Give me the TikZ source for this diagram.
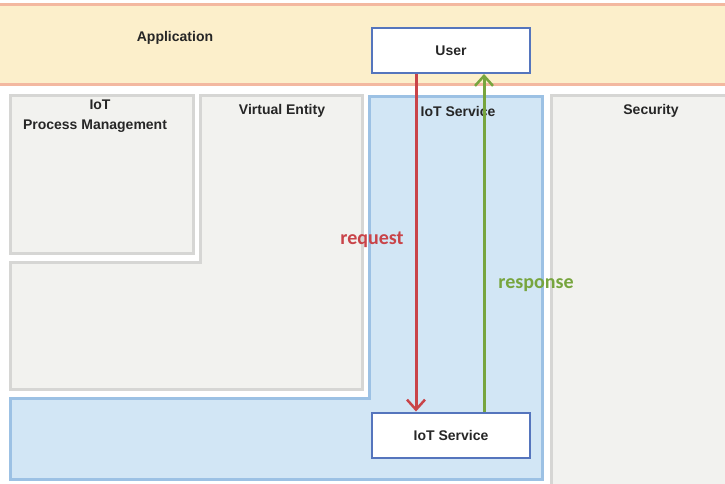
\documentclass[tikz,border=0pt]{standalone}
\usepackage{fontspec}
\setmainfont{Liberation Sans}
\newfontfamily\carlitofont{Carlito}
\usetikzlibrary{arrows.meta}
\definecolor{bandfill}{HTML}{FCEFCB}
\definecolor{bandline}{HTML}{F3B8A0}
\definecolor{grayfill}{HTML}{F2F2EF}
\definecolor{grayline}{HTML}{D6D6D4}
\definecolor{bluefill}{HTML}{D2E6F5}
\definecolor{blueline}{HTML}{9CC1E4}
\definecolor{boxline}{HTML}{5575BD}
\definecolor{reqred}{HTML}{C94449}
\definecolor{resgreen}{HTML}{77A53E}
\tikzset{
  lbl/.style={font=\fontsize{14}{16}\selectfont\bfseries, align=center, text=black!85},
  whitebox/.style={draw=boxline, line width=2pt, fill=white, minimum width=158pt, minimum height=45pt, font=\fontsize{14}{16}\selectfont\bfseries, text=black!85},
  grayarea/.style={draw=grayline, line width=3pt, fill=grayfill},
  bluearea/.style={draw=blueline, line width=3pt, fill=bluefill},
  flowarrow/.style={line width=3pt, -{Straight Barb[length=10pt,width=18pt,line width=2.5pt]}},
  flowlbl/.style={font=\carlitofont\fontsize{20}{22}\selectfont\bfseries}
}
\begin{document}
\begin{tikzpicture}[x=1pt,y=-1pt]
\useasboundingbox (0,0) rectangle (725,483);
% application band
\fill[bandfill] (0,4) rectangle (725,84);
\draw[bandline, line width=3pt] (0,4) -- (725,4);
\draw[bandline, line width=3pt] (0,84) -- (725,84);
% security
\draw[grayarea] (551,95) rectangle (735,495);
% IoT process management
\draw[grayarea] (10,95) rectangle (193,253);
% virtual entity L-shape
\draw[grayarea] (200,95) -- (362,95) -- (362,389) -- (10,389) -- (10,262) -- (200,262) -- cycle;
% IoT service L-shape
\draw[bluearea] (369,96) -- (542,96) -- (542,479) -- (10,479) -- (10,398) -- (369,398) -- cycle;
% labels
\node[lbl] (app) at (175,38) {Application};
\node[lbl] (pmtop) at (100,105) {IoT};
\node[lbl] (pm) at (95,126) {Process Management};
\node[lbl] (ve) at (282,111) {Virtual Entity};
\node[lbl] (svc) at (458,111) {IoT Service};
\node[lbl] (sec) at (651,111) {Security};
% boxes
\node[whitebox] (user) at (451,50.5) {User};
\node[whitebox] (iots) at (451,435) {IoT Service};
% arrows
\draw[flowarrow, draw=reqred] ([xshift=-35pt]user.south) -- ([xshift=-35pt]iots.north);
\draw[flowarrow, draw=resgreen] ([xshift=33pt]iots.north) -- ([xshift=33pt]user.south);
\node[flowlbl, text=reqred] (req) at (372,240) {request};
\node[flowlbl, text=resgreen] (res) at (536,285) {response};
\end{tikzpicture}
\end{document}
